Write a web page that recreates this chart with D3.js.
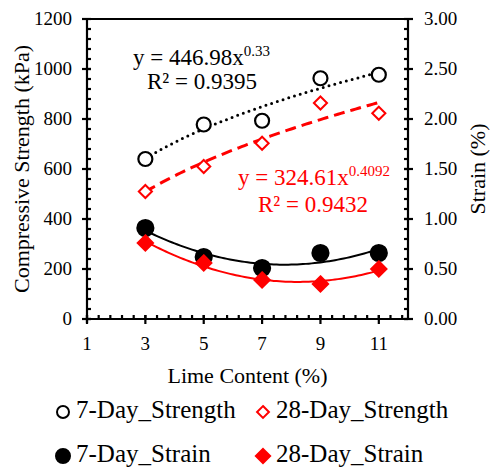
<!DOCTYPE html>
<html>
<head>
<meta charset="utf-8">
<script src="https://cdn.jsdelivr.net/npm/d3@7"></script>
<style>
  body { margin: 0; background: #fff; }
  text { font-family: "Liberation Serif", "Times New Roman", serif; }
</style>
</head>
<body>
<svg id="chart" width="490" height="470"></svg>
<script>
// lime content (%)
var lime = [3, 5, 7, 9, 11];
// compressive strength (kPa)
var strength7 = [640, 778, 793, 963, 977];
var strength28 = [510, 610, 703, 864, 823];
// strain (%)
var strain7 = [0.91, 0.62, 0.51, 0.66, 0.66];
var strain28 = [0.76, 0.56, 0.39, 0.35, 0.50];
// power trendlines from the chart labels: y = a * x^b
var fit7 = {a: 446.98, b: 0.33, label: "y = 446.98x", exp: "0.33", r2: "R² = 0.9395"};
var fit28 = {a: 324.61, b: 0.4092, label: "y = 324.61x", exp: "0.4092", r2: "R² = 0.9432"};
var xTicks = [1, 3, 5, 7, 9, 11];
var yTicks = [0, 200, 400, 600, 800, 1000, 1200];
var y2Ticks = [0, 0.5, 1, 1.5, 2, 2.5, 3];

var svg = d3.select("#chart");
var pLeft = 87, pRight = 408, pTop = 19, pBottom = 319;

var x = d3.scaleLinear().domain([1, 12]).range([pLeft, pRight]);
var y = d3.scaleLinear().domain([0, 1200]).range([pBottom, pTop]);
var y2 = d3.scaleLinear().domain([0, 3]).range([pBottom, pTop]);

// quadratic least squares, like excel's order-2 polynomial trendline
function polyFit(xs, ys) {
  var n = xs.length, s = [0, 0, 0, 0, 0], t = [0, 0, 0];
  for (var i = 0; i < n; i++) {
    for (var k = 0; k < 5; k++) s[k] += Math.pow(xs[i], k);
    for (var k = 0; k < 3; k++) t[k] += ys[i] * Math.pow(xs[i], k);
  }
  var m = [[s[0], s[1], s[2], t[0]], [s[1], s[2], s[3], t[1]], [s[2], s[3], s[4], t[2]]];
  for (var c = 0; c < 3; c++) {
    for (var r = c + 1; r < 3; r++) {
      var f = m[r][c] / m[c][c];
      for (var j = c; j < 4; j++) m[r][j] -= f * m[c][j];
    }
  }
  var co = [0, 0, 0];
  for (var r = 2; r >= 0; r--) {
    var v = m[r][3];
    for (var j = r + 1; j < 3; j++) v -= m[r][j] * co[j];
    co[r] = v / m[r][r];
  }
  return function(v) { return co[0] + co[1] * v + co[2] * v * v; };
}

var curveX = d3.range(3, 11.001, 0.1);
var line = d3.line();

function trend(fn, sc, color, width, dash, cap) {
  svg.append("path")
    .attr("d", line(curveX.map(function(v) { return [x(v), sc(fn(v))]; })))
    .attr("fill", "none")
    .attr("stroke", color)
    .attr("stroke-width", width)
    .attr("stroke-dasharray", dash)
    .attr("stroke-linecap", cap);
}

trend(function(v) { return fit7.a * Math.pow(v, fit7.b); }, y, "#000", 3, "0,6", "round");
trend(function(v) { return fit28.a * Math.pow(v, fit28.b); }, y, "#ff0000", 3, "11,6", "butt");
trend(polyFit(lime, strain7), y2, "#000", 2, null, "butt");
trend(polyFit(lime, strain28), y2, "#ff0000", 2, null, "butt");

// markers
var diamond = d3.symbol().type(d3.symbolDiamond2);
function circles(vals, sc, filled, r) {
  svg.append("g").selectAll("circle").data(vals).join("circle")
    .attr("cx", function(d, i) { return x(lime[i]); })
    .attr("cy", function(d) { return sc(d); })
    .attr("r", r)
    .attr("fill", filled ? "#000" : "#fff")
    .attr("stroke", "#000")
    .attr("stroke-width", 2.2);
}
function diamonds(vals, sc, filled, size) {
  svg.append("g").selectAll("path").data(vals).join("path")
    .attr("transform", function(d, i) { return "translate(" + x(lime[i]) + "," + sc(d) + ")"; })
    .attr("d", diamond.size(size))
    .attr("fill", filled ? "#ff0000" : "#fff")
    .attr("stroke", "#ff0000")
    .attr("stroke-width", 2);
}
circles(strength7, y, false, 7);
diamonds(strength28, y, false, 110);
circles(strain7, y2, true, 8);
diamonds(strain28, y2, true, 150);

// axes
var ax = svg.append("g").attr("stroke", "#000").attr("stroke-width", 2.2);
ax.append("line").attr("x1", pLeft).attr("x2", pRight).attr("y1", pBottom).attr("y2", pBottom);
ax.append("line").attr("x1", pLeft).attr("x2", pRight).attr("y1", pTop).attr("y2", pTop);
ax.append("line").attr("x1", pLeft).attr("x2", pLeft).attr("y1", pTop).attr("y2", pBottom + 4);
ax.append("line").attr("x1", pRight).attr("x2", pRight).attr("y1", pTop).attr("y2", pBottom);

// minor ticks (inside)
d3.range(0, 1200, 40).forEach(function(v) {
  ax.append("line").attr("x1", pLeft).attr("x2", pLeft + 4).attr("y1", y(v)).attr("y2", y(v));
});
d3.range(0, 3, 0.1).forEach(function(v) {
  ax.append("line").attr("x1", pRight).attr("x2", pRight - 4).attr("y1", y2(v)).attr("y2", y2(v));
});
d3.range(1, 12, 0.4).forEach(function(v) {
  ax.append("line").attr("x1", x(v)).attr("x2", x(v)).attr("y1", pBottom).attr("y2", pBottom - 4);
});
// major ticks (cross)
yTicks.forEach(function(v) {
  ax.append("line").attr("x1", pLeft - 5).attr("x2", pLeft + 4).attr("y1", y(v)).attr("y2", y(v));
});
y2Ticks.forEach(function(v) {
  ax.append("line").attr("x1", pRight - 4).attr("x2", pRight + 5).attr("y1", y2(v)).attr("y2", y2(v));
});
xTicks.forEach(function(v) {
  ax.append("line").attr("x1", x(v)).attr("x2", x(v)).attr("y1", pBottom - 4).attr("y2", pBottom + 5);
});

// tick labels
var fs = 19;
svg.append("g").selectAll("text").data(yTicks).join("text")
  .attr("x", pLeft - 15).attr("y", function(d) { return y(d) + 6; })
  .attr("text-anchor", "end").attr("font-size", fs).text(function(d) { return d; });
svg.append("g").selectAll("text").data(y2Ticks).join("text")
  .attr("x", pRight + 16).attr("y", function(d) { return y2(d) + 6; })
  .attr("font-size", fs).text(function(d) { return d3.format(".2f")(d); });
svg.append("g").selectAll("text").data(xTicks).join("text")
  .attr("x", function(d) { return x(d); }).attr("y", pBottom + 31)
  .attr("text-anchor", "middle").attr("font-size", fs).text(function(d) { return d; });

// axis titles
var ts = 22;
svg.append("text").attr("transform", "translate(29," + (pTop + pBottom) / 2 + ") rotate(-90)")
  .attr("text-anchor", "middle").attr("font-size", ts).text("Compressive Strength (kPa)");
svg.append("text").attr("transform", "translate(485," + (pTop + pBottom) / 2 + ") rotate(-90)")
  .attr("text-anchor", "middle").attr("font-size", ts).text("Strain (%)");
svg.append("text").attr("x", (pLeft + pRight) / 2).attr("y", 383)
  .attr("text-anchor", "middle").attr("font-size", ts).text("Lime Content (%)");

// trendline labels
function eqLabel(fit, color, ex, ey, rx, ry) {
  var t = svg.append("text").attr("x", ex).attr("y", ey).attr("fill", color).attr("font-size", 23);
  t.append("tspan").text(fit.label);
  t.append("tspan").attr("dy", -9).attr("font-size", 15).text(fit.exp);
  svg.append("text").attr("x", rx).attr("y", ry).attr("fill", color).attr("font-size", 23).text(fit.r2);
}
eqLabel(fit7, "#000", 133, 65, 147, 89);
eqLabel(fit28, "#ff0000", 238, 185, 258, 212);

// legend
var legend = [
  {name: "7-Day_Strength", shape: "circle", filled: false, color: "#000", lx: 63, ly: 412},
  {name: "28-Day_Strength", shape: "diamond", filled: false, color: "#ff0000", lx: 263, ly: 412},
  {name: "7-Day_Strain", shape: "circle", filled: true, color: "#000", lx: 63, ly: 456},
  {name: "28-Day_Strain", shape: "diamond", filled: true, color: "#ff0000", lx: 263, ly: 456}
];
legend.forEach(function(d) {
  if (d.shape === "circle") {
    svg.append("circle").attr("cx", d.lx).attr("cy", d.ly).attr("r", d.filled ? 7 : 6)
      .attr("fill", d.filled ? d.color : "#fff").attr("stroke", d.color).attr("stroke-width", 2);
  } else {
    svg.append("path").attr("transform", "translate(" + d.lx + "," + d.ly + ")")
      .attr("d", diamond.size(d.filled ? 130 : 90))
      .attr("fill", d.filled ? d.color : "#fff").attr("stroke", d.color).attr("stroke-width", 2);
  }
  svg.append("text").attr("x", d.lx + 13).attr("y", d.ly + 6).attr("font-size", 25).text(d.name);
});
</script>
</body>
</html>
